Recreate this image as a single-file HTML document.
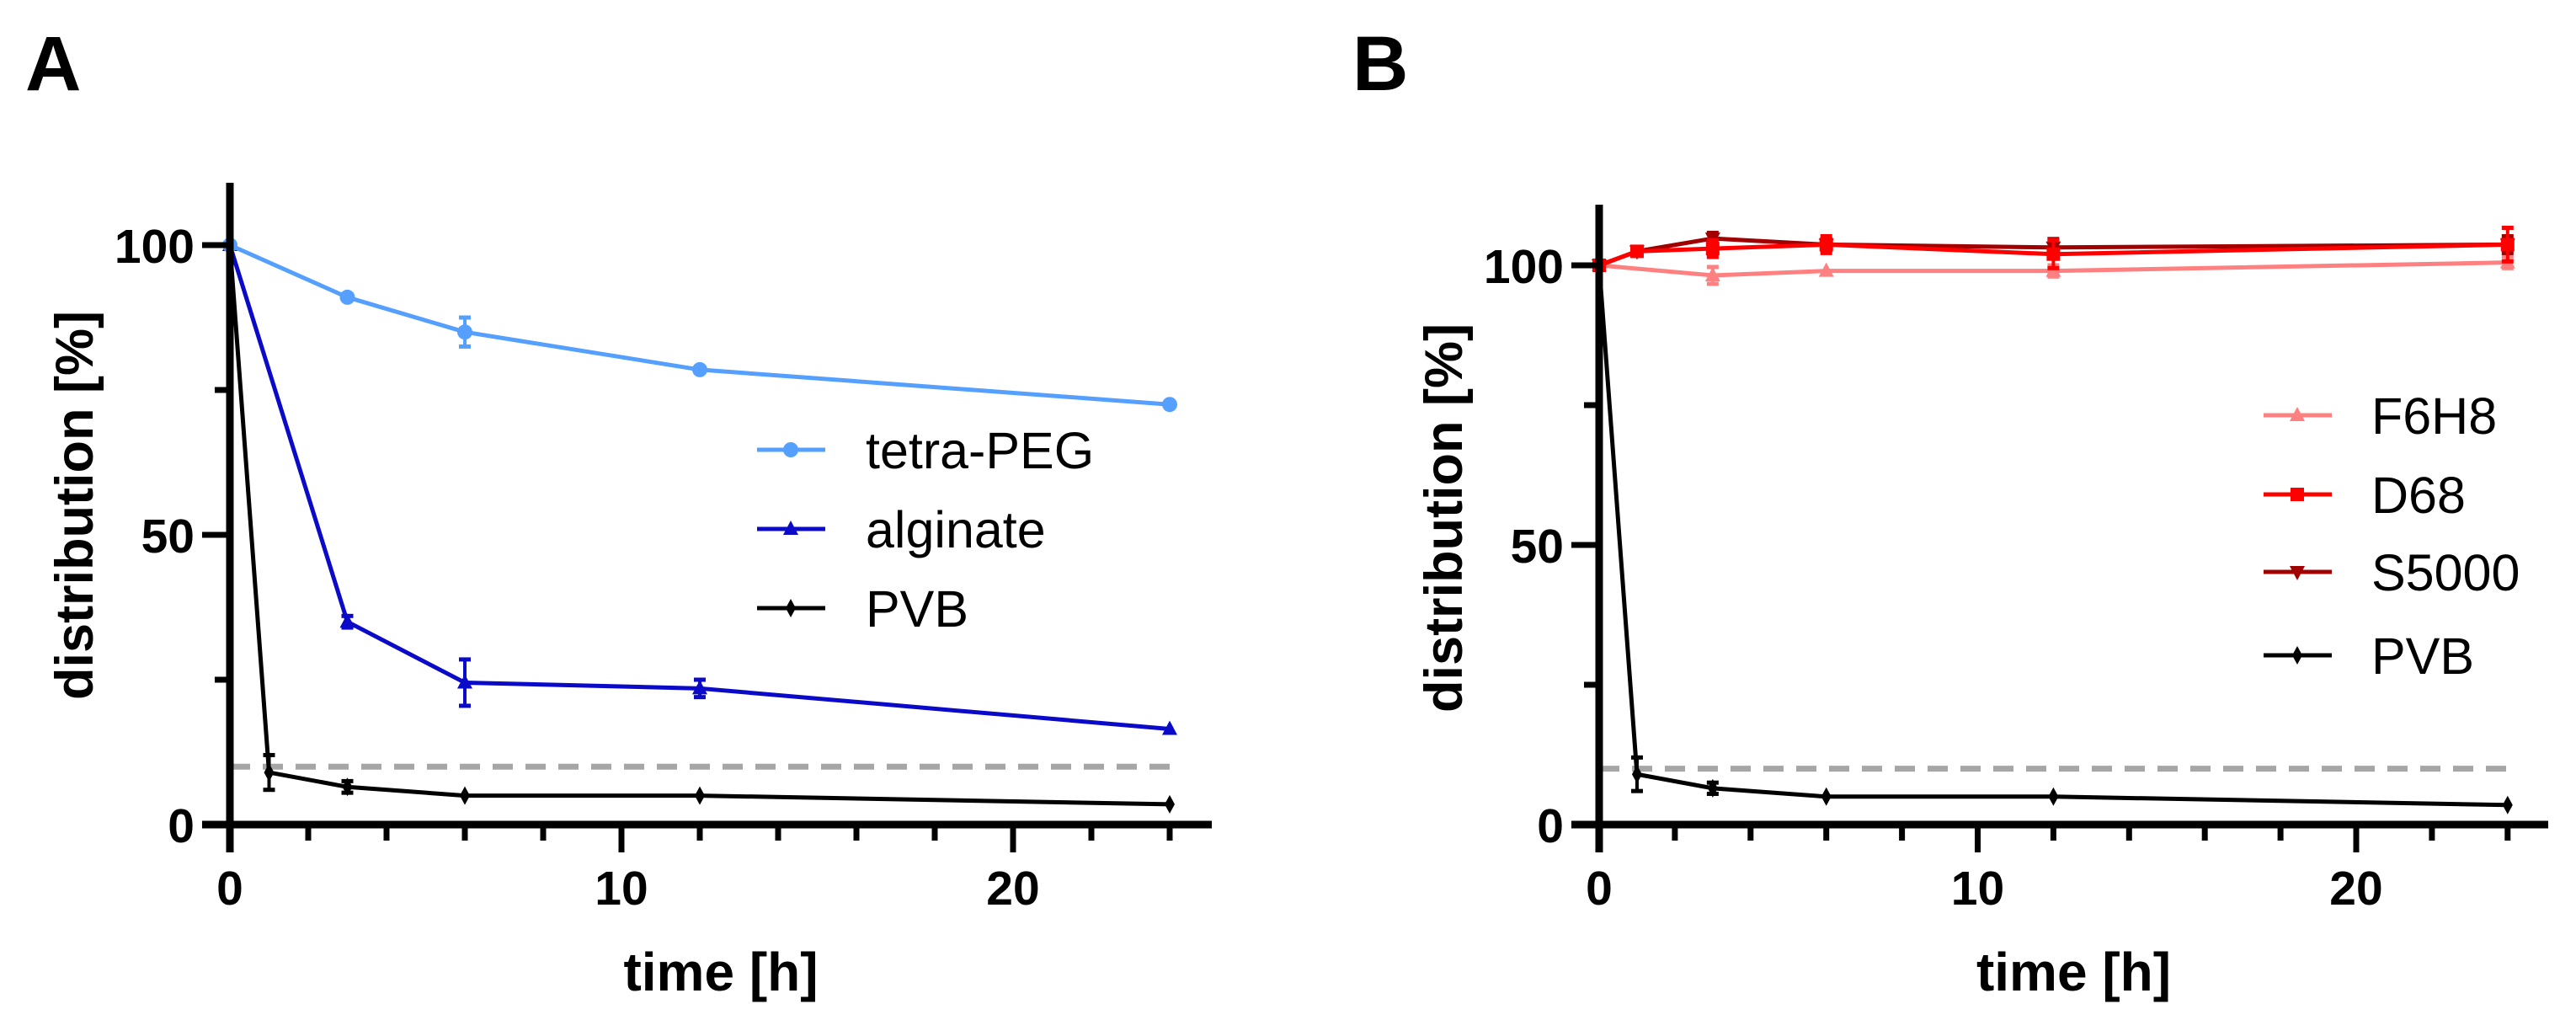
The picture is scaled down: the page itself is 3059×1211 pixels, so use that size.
<!DOCTYPE html>
<html><head><meta charset="utf-8">
<style>
html,body{margin:0;padding:0;background:#fff;}
svg{display:block;font-family:"Liberation Sans",Arial,sans-serif;}
</style></head>
<body>
<svg id="fig" width="3059" height="1211" viewBox="0 0 3059 1211" xmlns="http://www.w3.org/2000/svg">
<rect width="3059" height="1211" fill="#fff"/>
<text x="30" y="107" font-size="92" font-weight="bold">A</text>
<text x="1606" y="107" font-size="92" font-weight="bold">B</text>
<g id="pa"></g>
<g id="pb"></g>
</svg>
<script>
// ---- data ----
const hoursPVB = [0, 1, 3, 6, 12, 24];
const pvbVals = [100, 9, 6.5, 5, 5, 3.5];
const pvbErr = [0, 3, 1, 0.3, 0.3, 0.3];
const hoursA = [0, 3, 6, 12, 24];
const tetraVals = [100, 91, 85, 78.5, 72.5];
const tetraErr = [0, 0.5, 2.5, 0.5, 0.5];
const alginateVals = [100, 35, 24.5, 23.5, 16.5];
const alginateErr = [0, 1, 4, 1.5, 0.5];
const hoursB = [0, 3, 6, 12, 24];
const f6h8Vals = [100, 98.2, 99, 99, 100.5];
const f6h8Err = [0, 1.5, 0.5, 1, 1];
const hoursB2 = [0, 1, 3, 6, 12, 24];
const d68Vals = [100, 102.5, 103, 103.7, 102, 103.7];
const d68Err = [0, 0.5, 1.5, 1.5, 2.5, 3];
const s5000Vals = [100, 102.5, 104.8, 103.7, 103.2, 103.7];
const s5000Err = [0, 0.5, 1, 1, 1.5, 1.5];
const thresholdVal = [10];
const xTicksMajor = [0, 10, 20];
const yTicksMajor = [0, 50, 100];
const yTicksMinor = [25, 75];

const NS = "http://www.w3.org/2000/svg";
function mk(parent, tag, attrs) {
  const e = document.createElementNS(NS, tag);
  for (const k in attrs) e.setAttribute(k, attrs[k]);
  parent.appendChild(e);
  return e;
}
function marker(g, shape, cx, cy, color) {
  let e;
  if (shape === "circle") e = mk(g, "circle", {cx: cx, cy: cy, r: 9, fill: color});
  else if (shape === "tri") e = mk(g, "polygon", {points: `${cx},${cy-10} ${cx+9},${cy+7} ${cx-9},${cy+7}`, fill: color});
  else if (shape === "tridown") e = mk(g, "polygon", {points: `${cx},${cy+10} ${cx+9},${cy-7} ${cx-9},${cy-7}`, fill: color});
  else if (shape === "square") e = mk(g, "rect", {x: cx-8, y: cy-8, width: 16, height: 16, fill: color});
  else e = mk(g, "polygon", {points: `${cx},${cy-11} ${cx+6},${cy} ${cx},${cy+11} ${cx-6},${cy}`, fill: color});
  return e;
}

function panel(root, cfg) {
  const X = h => cfg.x0 + h * cfg.xs;
  const Y = v => cfg.y0 - v * cfg.ys;
  const th = mk(root, "line", {x1: X(0), x2: X(24), y1: Y(thresholdVal[0]), y2: Y(thresholdVal[0]), stroke: "#a6a6a6", "stroke-width": 7, "stroke-dasharray": "24 15"});
  
  
  cfg.series.forEach(s => {
    const g = mk(root, "g", {});
    
    
    const pts = s.h.map((h, i) => X(h) + "," + Y(s.v[i])).join(" ");
    mk(g, "polyline", {points: pts, fill: "none", stroke: s.color, "stroke-width": 5, "stroke-linejoin": "round"});
    s.h.forEach((h, i) => {
      const e = s.e[i];
      if (e > 0.6) {
        const x = X(h), y1 = Y(s.v[i] + e), y2 = Y(s.v[i] - e);
        mk(g, "line", {x1: x, x2: x, y1: y1, y2: y2, stroke: s.color, "stroke-width": 4});
        mk(g, "line", {x1: x-7, x2: x+7, y1: y1, y2: y1, stroke: s.color, "stroke-width": 5});
        mk(g, "line", {x1: x-7, x2: x+7, y1: y2, y2: y2, stroke: s.color, "stroke-width": 5});
      }
      const m = marker(g, s.shape, X(h), Y(s.v[i]), s.color);
      
      
    });
  });
  const ax = mk(root, "g", {});
  
  
  mk(ax, "line", {x1: cfg.x0, x2: cfg.x0, y1: cfg.yTop, y2: cfg.y0 + 33, stroke: "#000", "stroke-width": 9});
  mk(ax, "line", {x1: cfg.x0 - 33, x2: cfg.xEnd, y1: cfg.y0, y2: cfg.y0, stroke: "#000", "stroke-width": 9});
  for (let h = 2; h <= 24; h += 2) {
    const major = h % 10 === 0;
    mk(ax, "line", {x1: X(h), x2: X(h), y1: cfg.y0, y2: cfg.y0 + (major ? 33 : 19), stroke: "#000", "stroke-width": 7});
  }
  xTicksMajor.forEach(t => {
    const tl = mk(ax, "text", {x: X(t), y: cfg.y0 + 95, "font-size": 57, "font-weight": "bold", "text-anchor": "middle"});
    tl.textContent = t;
    
    
  });
  yTicksMajor.forEach(t => {
    mk(ax, "line", {x1: cfg.x0 - 33, x2: cfg.x0, y1: Y(t), y2: Y(t), stroke: "#000", "stroke-width": 7});
    const tl = mk(ax, "text", {x: cfg.x0 - 42, y: Y(t) + 21, "font-size": 57, "font-weight": "bold", "text-anchor": "end"});
    tl.textContent = t;
    
    
  });
  yTicksMinor.forEach(t => {
    mk(ax, "line", {x1: cfg.x0 - 18, x2: cfg.x0, y1: Y(t), y2: Y(t), stroke: "#000", "stroke-width": 7});
  });
  const xt = mk(ax, "text", {x: (cfg.x0 + cfg.xEnd) / 2, y: 1176, "font-size": 64, "font-weight": "bold", "text-anchor": "middle"});
  xt.textContent = "time [h]";
  
  
  const yt = mk(ax, "text", {x: 0, y: 0, "font-size": 63, "font-weight": "bold", "text-anchor": "middle", transform: `translate(${cfg.ytX},${cfg.ytY}) rotate(-90)`});
  yt.textContent = "distribution [%]";
  
  
  cfg.series.slice().sort((a, b) => a.lo - b.lo).forEach(s => {
    const g = mk(root, "g", {});
    
    
    const ly = cfg.legY[s.lo];
    mk(g, "line", {x1: cfg.legX, x2: cfg.legX + 81, y1: ly, y2: ly, stroke: s.color, "stroke-width": 5});
    marker(g, s.shape, cfg.legX + 40, ly, s.color);
    const t = mk(g, "text", {x: cfg.legTX, y: ly + 22, "font-size": 61});
    t.textContent = s.name;
  });
}

const pvb = {name: "PVB", h: hoursPVB, v: pvbVals, e: pvbErr, color: "#000", shape: "diamond"};
panel(document.getElementById("pa"), {
  x0: 273, xs: 46.5, y0: 979, ys: 6.88, yTop: 217, xEnd: 1439, ytX: 110, ytY: 600,
  legX: 899, legTX: 1028, legY: [534, 628, 722],
  series: [
    Object.assign({}, pvb, {lo: 2}),
    {name: "alginate", h: hoursA, v: alginateVals, e: alginateErr, color: "#0a0ac8", shape: "tri", lo: 1},
    {name: "tetra-PEG", h: hoursA, v: tetraVals, e: tetraErr, color: "#55a0ff", shape: "circle", lo: 0}
  ]
});
panel(document.getElementById("pb"), {
  x0: 1899, xs: 44.95, y0: 979, ys: 6.64, yTop: 243, xEnd: 3026, ytX: 1736, ytY: 615,
  legX: 2688, legTX: 2816, legY: [493, 587, 679, 778],
  series: [
    Object.assign({}, pvb, {lo: 3}),
    {name: "F6H8", h: hoursB, v: f6h8Vals, e: f6h8Err, color: "#ff8080", shape: "tri", lo: 0},
    {name: "S5000", h: hoursB2, v: s5000Vals, e: s5000Err, color: "#a00000", shape: "tridown", lo: 2},
    {name: "D68", h: hoursB2, v: d68Vals, e: d68Err, color: "#ff0000", shape: "square", lo: 1}
  ]
});
</script>
</body></html>
